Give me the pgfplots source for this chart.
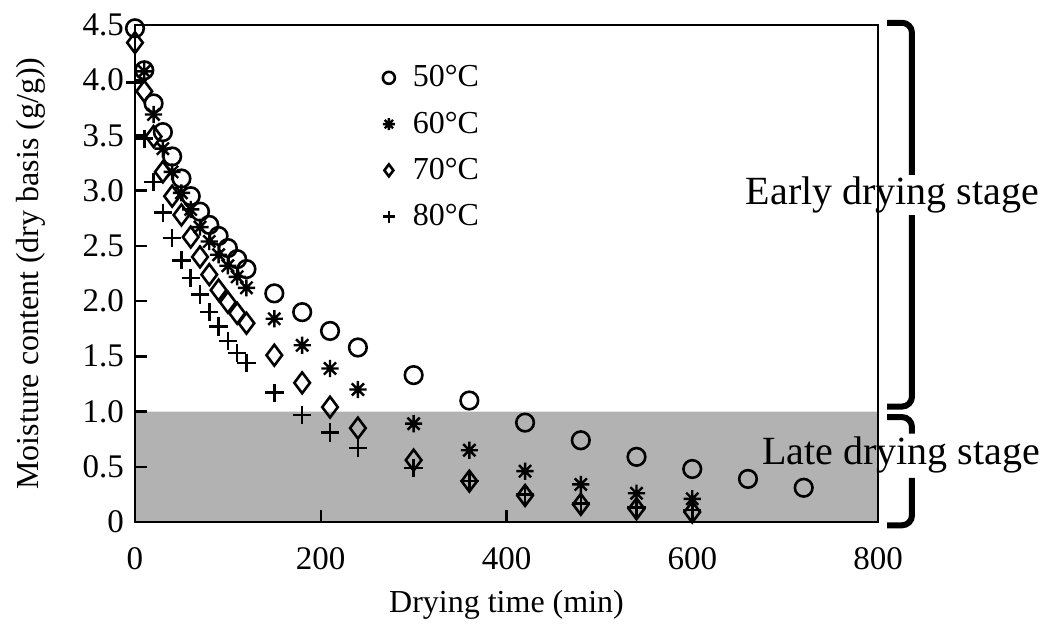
\documentclass[border=0pt]{standalone}
\usepackage{pgfplots}
\pgfplotsset{compat=1.18}
\usepackage{pgfplotstable}
\usepackage{fontspec}
\setmainfont{Liberation Serif}

% 8-armed asterisk like the reference
\pgfdeclareplotmark{star8}{%
  \pgfpathmoveto{\pgfqpoint{-\pgfplotmarksize}{0pt}}\pgfpathlineto{\pgfqpoint{\pgfplotmarksize}{0pt}}%
  \pgfpathmoveto{\pgfqpoint{0pt}{-\pgfplotmarksize}}\pgfpathlineto{\pgfqpoint{0pt}{\pgfplotmarksize}}%
  \pgfpathmoveto{\pgfqpoint{-0.707\pgfplotmarksize}{-0.707\pgfplotmarksize}}\pgfpathlineto{\pgfqpoint{0.707\pgfplotmarksize}{0.707\pgfplotmarksize}}%
  \pgfpathmoveto{\pgfqpoint{-0.707\pgfplotmarksize}{0.707\pgfplotmarksize}}\pgfpathlineto{\pgfqpoint{0.707\pgfplotmarksize}{-0.707\pgfplotmarksize}}%
  \pgfusepathqstroke}

\pgfplotstableread{
t M
0 4.47
10 4.09
20 3.79
30 3.53
40 3.31
50 3.11
60 2.95
70 2.81
80 2.69
90 2.59
100 2.48
110 2.38
120 2.29
150 2.07
180 1.90
210 1.73
240 1.58
300 1.33
360 1.10
420 0.90
480 0.74
540 0.59
600 0.48
660 0.39
720 0.31
}\tfifty

\pgfplotstableread{
t M
10 4.08
20 3.69
30 3.38
40 3.17
50 2.98
60 2.83
70 2.67
80 2.54
90 2.42
100 2.32
110 2.22
120 2.12
150 1.84
180 1.60
210 1.39
240 1.20
300 0.89
360 0.65
420 0.46
480 0.34
540 0.26
600 0.21
}\tsixty

\pgfplotstableread{
t M
0 4.34
10 3.90
20 3.49
30 3.17
40 2.95
50 2.78
60 2.58
70 2.40
80 2.24
90 2.10
100 1.99
110 1.89
120 1.80
150 1.51
180 1.26
210 1.04
240 0.85
300 0.56
360 0.37
420 0.24
480 0.16
540 0.12
600 0.09
}\tseventy

\pgfplotstableread{
t M
0 3.98
10 3.47
20 3.08
30 2.80
40 2.57
50 2.37
60 2.21
70 2.06
80 1.90
90 1.77
100 1.64
110 1.53
120 1.44
150 1.17
180 0.97
210 0.81
240 0.67
300 0.49
360 0.37
420 0.25
480 0.17
540 0.13
600 0.11
}\teighty

\begin{document}
\begin{tikzpicture}
\begin{axis}[
  scale only axis,
  width=371.5pt, height=248.5pt,
  xmin=0, xmax=800, ymin=0, ymax=4.5,
  xtick={0,200,...,800},
  ytick={0,0.5,...,4.5},
  yticklabels={0,0.5,1.0,1.5,2.0,2.5,3.0,3.5,4.0,4.5},
  tick align=inside,
  xtick pos=bottom, ytick pos=left,
  major tick length=6pt,
  tick style={line width=1.2pt, black},
  axis line style={line width=1.2pt},
  axis on top,
  /pgf/number format/assume math mode=true,
  tick label style={font=\fontsize{16.5}{19}\selectfont},
  yticklabel style={xshift=-2pt},
  xticklabel style={yshift=-9pt},
  label style={font=\fontsize{16}{19}\selectfont},
  xlabel={Drying time (min)},
  ylabel={Moisture content (dry basis (g/g))},
  xlabel style={at={(axis description cs:0.5,-0.167)}, anchor=center},
  ylabel style={at={(axis description cs:-0.14,0.5)}, anchor=center},
  clip=false,
  legend style={draw=none, fill=none, at={(0.325,0.935)}, anchor=north west,
    font=\fontsize{16}{19}\selectfont, row sep=7pt, cells={anchor=west},
    /tikz/every odd column/.append style={column sep=7pt}},
  legend image post style={mark size=3pt},
]
\addplot[draw=none, fill=gray!60, mark=none, forget plot]
  coordinates {(0,0) (800,0) (800,1) (0,1)} \closedcycle;

\addplot[only marks, mark=o, mark size=4.4pt, line width=1.3pt, mark options={fill=white}] table[x=t,y=M] {\tfifty};
\addlegendentry{50°C}
\addplot[only marks, mark=star8, mark size=4.3pt, line width=1.2pt] table[x=t,y=M] {\tsixty};
\addlegendentry{60°C}
\addplot[only marks, mark=diamond, mark size=5.2pt, line width=1.3pt, mark options={fill=white}] table[x=t,y=M] {\tseventy};
\addlegendentry{70°C}
\addplot[only marks, mark=+, mark size=4.6pt, line width=1.3pt] table[x=t,y=M] {\teighty};
\addlegendentry{80°C}

% stage brackets
\draw[line width=3pt, rounded corners=5pt]
  (axis cs:809.7,4.52) -- (axis cs:836.6,4.52) -- (axis cs:836.6,1.045) -- (axis cs:809.7,1.045);
\draw[line width=3pt, rounded corners=5pt]
  (axis cs:809.7,0.95) -- (axis cs:836.6,0.95) -- (axis cs:836.6,0.80);
\draw[line width=3pt, rounded corners=5pt]
  (axis cs:836.6,0.40) -- (axis cs:836.6,-0.03) -- (axis cs:809.7,-0.03);
\node[fill=white, inner sep=1pt, font=\fontsize{20}{24}\selectfont] at (axis cs:815.6,2.96) {Early drying stage};
\node[inner sep=1pt, font=\fontsize{20}{24}\selectfont] at (axis cs:824.8,0.607) {Late drying stage};
\end{axis}
\pgfresetboundingbox
\path[use as bounding box] ([xshift=-67.5pt,yshift=-51pt]current axis.south west)
  rectangle ([xshift=82.5pt,yshift=12.5pt]current axis.north east);
\end{tikzpicture}
\end{document}
